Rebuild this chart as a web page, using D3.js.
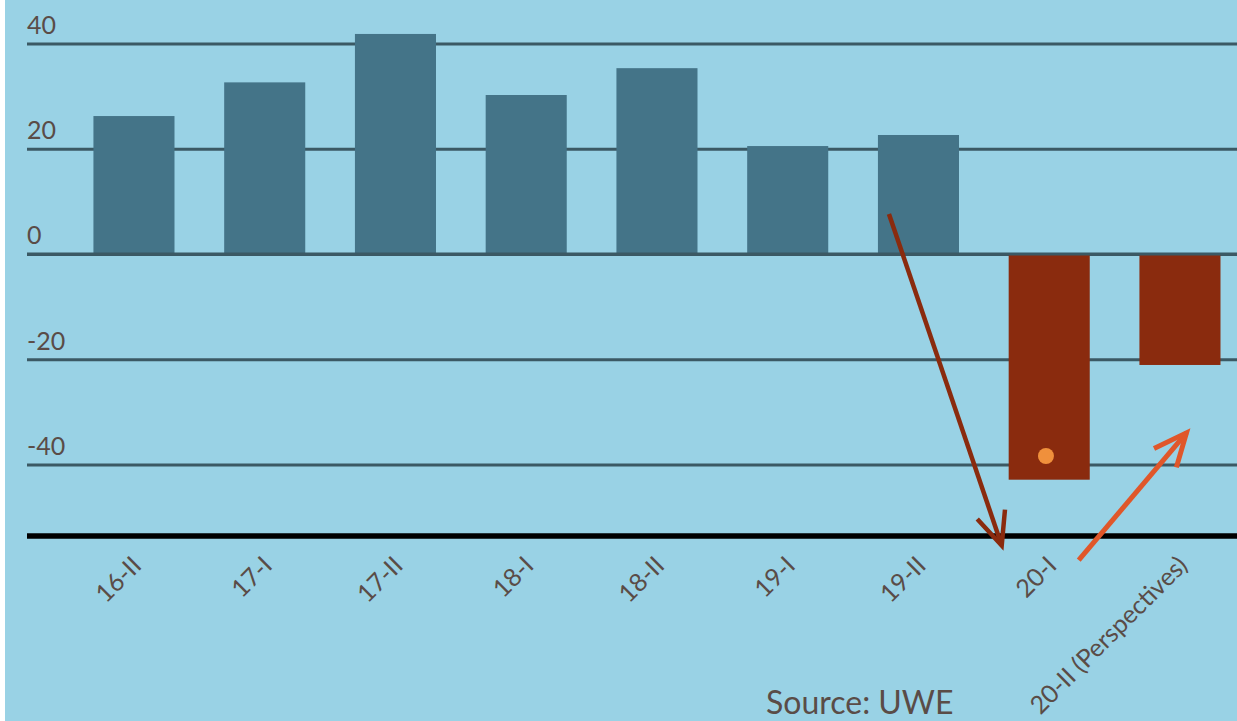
<!DOCTYPE html>
<html>
<head>
<meta charset="utf-8">
<script src="https://cdn.jsdelivr.net/npm/d3@7"></script>
<style>
  html, body { margin: 0; padding: 0; background: #fff; }
  svg { display: block; }
  text { font-family: Lato, "Open Sans", sans-serif; fill: #5a4c47; }
</style>
</head>
<body>
<div id="chart"></div>
<script>
(function(){
  'use strict';

  // data
  var periods = ['16-II', '17-I', '17-II', '18-I', '18-II', '19-I', '19-II', '20-I', '20-II (Perspectives)'];
  var balance = [26.2, 32.6, 41.8, 30.2, 35.3, 20.5, 22.6, -42.9, -21.1];
  var yTicks = [40, 20, 0, -20, -40];
  var yDomain = [-53.6, 42];

  // orange marker inside the 20-I bar
  var marker = {period: '20-I', offset: 0.46, value: -38.4};

  // annotation arrows: [period, offset within band, value]
  var arrows = [
    {from: ['19-II', 0.136, 7.6], to: ['20-I', -0.086, -55.4], color: '#8a2b0e', width: 4.5},
    {from: ['20-I', 0.864, -58.2], to: ['20-II (Perspectives)', 0.58, -34.0], color: '#e0572a', width: 5}
  ];

  var source = 'Source: UWE';

  var W = 1237, H = 721,
      left = 27;

  var svg = d3.select('#chart').append('svg')
    .attr('width', W)
    .attr('height', H);

  svg.append('rect')
    .attr('x', 5).attr('y', 0)
    .attr('width', W - 5).attr('height', H)
    .attr('fill', '#99d2e5');

  var x = d3.scaleBand()
    .domain(periods)
    .range([left + 0.4, left + 0.4 + 130.75 * 9.63])
    .paddingInner(0.38)
    .paddingOuter(0.505);

  var y = d3.scaleLinear()
    .domain(yDomain)
    .range([536, 536 - (yDomain[1] - yDomain[0]) * 5.2625]);

  function px(p) { return x(p[0]) + p[1] * x.bandwidth(); }
  function py(p) { return y(p[2]); }

  // grid + y labels
  var yAxis = d3.axisLeft(y)
    .tickValues(yTicks)
    .tickSize(-(W - left))
    .tickFormat(function(d) { return d; });

  var gy = svg.append('g')
    .attr('transform', 'translate(' + left + ',0)')
    .call(yAxis);

  gy.select('.domain').remove();
  gy.selectAll('.tick line')
    .attr('stroke', '#3b5964')
    .attr('stroke-width', 3);
  gy.selectAll('.tick text')
    .attr('x', 0)
    .attr('dy', -10)
    .attr('text-anchor', 'start')
    .attr('font-size', 25)
    .attr('font-family', 'Lato, sans-serif')
    .attr('fill', '#5a4c47');

  // bars
  svg.selectAll('.bar')
    .data(periods)
    .enter()
    .append('rect')
    .attr('class', 'bar')
    .attr('x', function(d) { return x(d); })
    .attr('width', x.bandwidth())
    .attr('y', function(d, i) { return y(Math.max(0, balance[i])); })
    .attr('height', function(d, i) { return Math.abs(y(balance[i]) - y(0)); })
    .attr('fill', function(d, i) { return balance[i] < 0 ? '#8a2b0e' : '#447488'; });

  // zero line on top of the bars
  svg.append('line')
    .attr('x1', left).attr('x2', W)
    .attr('y1', y(0)).attr('y2', y(0))
    .attr('stroke', '#3b5964')
    .attr('stroke-width', 3);

  // black base line + x labels
  var xAxis = d3.axisBottom(x).tickSize(0);

  var gx = svg.append('g')
    .attr('transform', 'translate(0,' + y(yDomain[0]) + ')')
    .call(xAxis);

  gx.select('.domain').remove();
  gx.selectAll('.tick text')
    .attr('x', 0).attr('y', 0).attr('dy', 0)
    .attr('text-anchor', 'end')
    .attr('transform', 'translate(9,31) rotate(-45)')
    .attr('font-size', 25)
    .attr('font-family', 'Lato, sans-serif')
    .attr('fill', '#5a4c47');

  svg.append('line')
    .attr('x1', left).attr('x2', W)
    .attr('y1', y(yDomain[0])).attr('y2', y(yDomain[0]))
    .attr('stroke', '#000')
    .attr('stroke-width', 5.5);

  // marker
  svg.append('circle')
    .attr('cx', x(marker.period) + marker.offset * x.bandwidth())
    .attr('cy', y(marker.value))
    .attr('r', 8)
    .attr('fill', '#f0903c');

  // arrows
  arrows.forEach(function(a) {
    var x1 = px(a.from), y1 = py(a.from),
        x2 = px(a.to), y2 = py(a.to),
        ang = Math.atan2(y2 - y1, x2 - x1),
        head = 36, spread = 24 * Math.PI / 180;

    var g = svg.append('g')
      .attr('stroke', a.color)
      .attr('stroke-width', a.width)
      .attr('fill', 'none');

    g.append('line')
      .attr('x1', x1).attr('y1', y1)
      .attr('x2', x2).attr('y2', y2);

    g.append('path')
      .attr('stroke-linejoin', 'miter')
      .attr('d', 'M' + (x2 - head * Math.cos(ang - spread)) + ',' + (y2 - head * Math.sin(ang - spread)) +
                 'L' + x2 + ',' + y2 +
                 'L' + (x2 - head * Math.cos(ang + spread)) + ',' + (y2 - head * Math.sin(ang + spread)));
  });

  // source
  svg.append('text')
    .attr('x', 766)
    .attr('y', 714)
    .attr('font-size', 32)
    .text(source);

}());
</script>
</body>
</html>
